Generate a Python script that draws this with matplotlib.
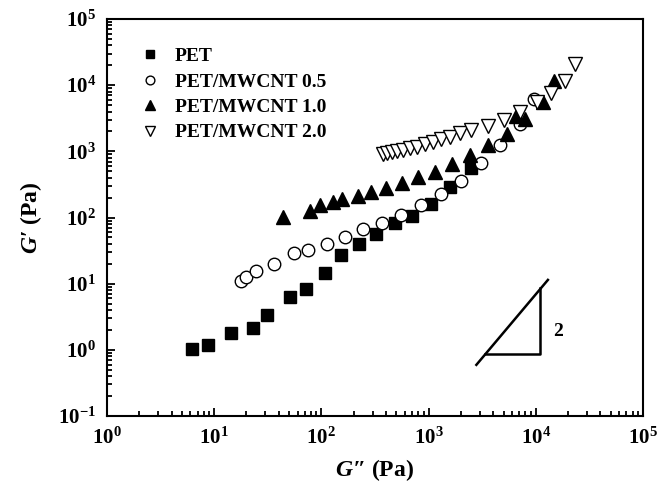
import math
import matplotlib
matplotlib.use('Agg')
import matplotlib.pyplot as plt
from matplotlib.ticker import LogLocator, FuncFormatter, NullFormatter

plt.rcParams['font.family'] = ['Liberation Serif', 'DejaVu Serif']
plt.rcParams['font.weight'] = 'bold'
plt.rcParams['mathtext.fontset'] = 'custom'
plt.rcParams['mathtext.rm'] = 'Liberation Serif:bold'
plt.rcParams['mathtext.bf'] = 'Liberation Serif:bold'
plt.rcParams['mathtext.it'] = 'Liberation Serif:bold:italic'

# G'' (x) and G' (y), Pa
pet_x = [6.2, 8.8, 14.2, 23.1, 30.8, 50.8, 72.6, 108, 154, 223, 326, 483,
         700, 1050, 1600, 2500]
pet_y = [1.03, 1.19, 1.79, 2.13, 3.38, 6.25, 8.26, 14.4, 27.2, 39.9, 56.5, 82,
         104, 160, 290, 560]

cnt05_x = [17.6, 20.0, 24.8, 36.0, 55.0, 75.2, 113, 165, 245, 367, 558, 844,
           1296, 1993, 3060, 4650, 7060, 9530]
cnt05_y = [11.1, 12.5, 15.3, 19.5, 29.2, 32.4, 39.9, 50.4, 66.5, 82.8, 109, 155,
           227, 361, 661, 1228, 2550, 6080]

cnt10_x = [43.4, 79.1, 98.1, 128, 157, 220, 289, 404, 565, 797, 1140, 1652,
           2415, 3554, 5346, 6550, 7940, 11700, 14800]
cnt10_y = [103, 127, 155, 174, 189, 208, 239, 280, 333, 404, 494, 645,
           883, 1250, 1833, 3365, 3085, 5480, 11560]

cnt20_x = [376, 413, 456, 512, 577, 667, 780, 920, 1099, 1316, 1573, 1950,
           2506, 3554, 5012, 7063, 10170, 13730, 18550, 23000]
cnt20_y = [904, 935, 968, 1014, 1050, 1114, 1178, 1281, 1402, 1524, 1668, 1877,
           2106, 2420, 2981, 3937, 5575, 7620, 11560, 20900]

fig = plt.figure(figsize=(6.62, 4.95), dpi=100)
ax = fig.add_axes([0.1616, 0.1596, 0.8097, 0.802])

ax.plot(pet_x, pet_y, 's', color='black', ms=8, label='PET')
ax.plot(cnt05_x, cnt05_y, 'o', mfc='white', mec='black', mew=1.0, ms=9,
        label='PET/MWCNT 0.5')
ax.plot(cnt10_x, cnt10_y, '^', color='black', ms=10, label='PET/MWCNT 1.0')
ax.plot(cnt20_x, cnt20_y, 'v', mfc='white', mec='black', mew=1.0, ms=10,
        label='PET/MWCNT 2.0')

# slope-2 triangle
ax.plot([2790, 12970], [0.593, 11.4], color='black', lw=1.8)
ax.plot([3340, 10840, 10840], [0.861, 0.861, 8.55], color='black', lw=1.8)
ax.text(16070, 1.89, '2', fontsize=14, fontweight='bold', ha='center', va='center')

ax.set_xscale('log')
ax.set_yscale('log')
ax.set_xlim(1, 1e5)
ax.set_ylim(0.1, 1e5)

fmt = FuncFormatter(lambda v, p: r'$\mathbf{10^{%d}}$' % round(math.log10(v)))
for axis in (ax.xaxis, ax.yaxis):
    axis.set_major_locator(LogLocator(base=10, numticks=10))
    axis.set_minor_locator(LogLocator(base=10, subs=range(2, 10), numticks=10))
    axis.set_major_formatter(fmt)
    axis.set_minor_formatter(NullFormatter())

ax.tick_params(which='both', direction='in', top=False, right=False,
               labelsize=15, width=1.3)
ax.tick_params(which='major', length=6, pad=8)
ax.tick_params(which='minor', length=3.5)
for s in ax.spines.values():
    s.set_linewidth(1.5)

ax.set_xlabel('$G$\u2033 (Pa)', fontsize=17, fontweight='bold', labelpad=6)
ax.set_ylabel('$G$\u2032 (Pa)', fontsize=17, fontweight='bold', labelpad=10)

ax.legend(loc='upper left', bbox_to_anchor=(0.018, 0.972), frameon=False,
          markerscale=0.7, handlelength=1.6, handletextpad=0.5,
          labelspacing=0.4,
          prop={'family': 'Liberation Serif', 'weight': 'bold', 'size': 14})

fig.savefig('out.png', dpi=100)
